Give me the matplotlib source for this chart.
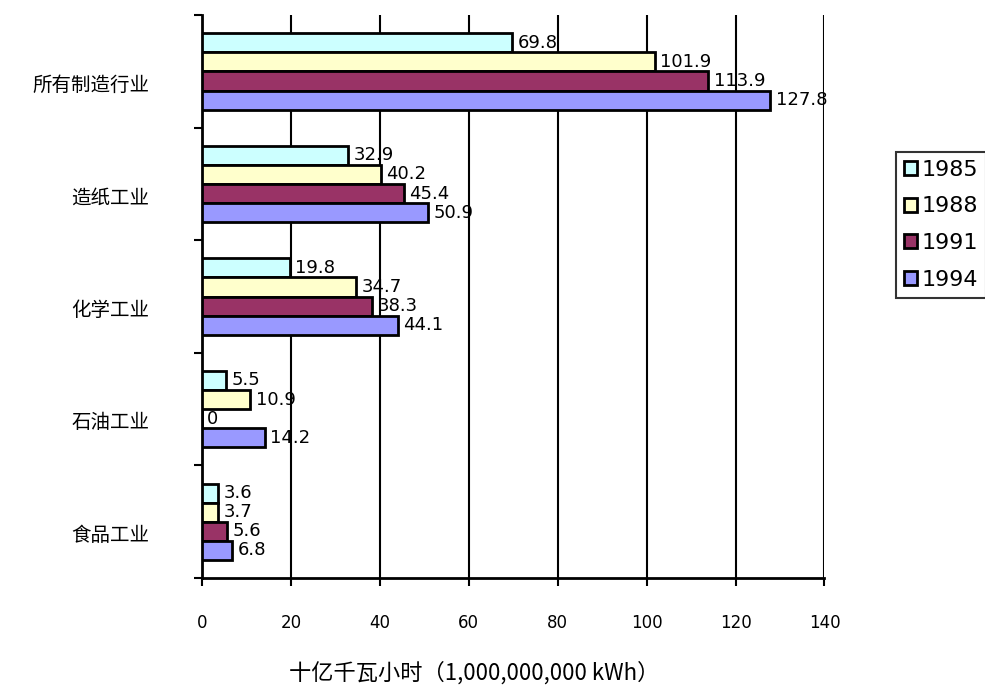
import numpy as np
import matplotlib.pyplot as plt
from matplotlib.ticker import FixedLocator, NullFormatter

plt.rcParams['font.family'] = ['DejaVu Sans', 'Noto Sans CJK SC']

categories = ['所有制造行业', '造纸工业', '化学工业', '石油工业', '食品工业']
years = ['1985', '1988', '1991', '1994']
values = {
    '1985': [69.8, 32.9, 19.8, 5.5, 3.6],
    '1988': [101.9, 40.2, 34.7, 10.9, 3.7],
    '1991': [113.9, 45.4, 38.3, 0, 5.6],
    '1994': [127.8, 50.9, 44.1, 14.2, 6.8],
}
colors = ['#CCFFFF', '#FFFFCC', '#993366', '#9999FF']
x_ticks = [0, 20, 40, 60, 80, 100, 120, 140]

fig = plt.figure(figsize=(9.85, 6.89), dpi=100)
ax = fig.add_axes([0.205, 0.161, 0.632, 0.817])

h = 0.17
y = np.arange(len(categories))
for k, yr in enumerate(years):
    pos = y + (k - 1.5) * h
    ax.barh(pos, values[yr], height=h, color=colors[k],
            edgecolor='black', linewidth=2, label=yr, zorder=3)
    for p, v in zip(pos, values[yr]):
        ax.text(v + 1.2, p, f'{v:g}', va='center', ha='left',
                fontsize=13, zorder=4)

ax.set_xlim(0, 140)
ax.set_ylim(len(categories) - 0.5, -0.5)

ax.xaxis.set_major_locator(FixedLocator(x_ticks))
ax.grid(axis='x', color='black', linewidth=1.5, zorder=1)
ax.tick_params(axis='x', length=6, width=1.5, pad=20, labelsize=12)

ax.yaxis.set_major_locator(FixedLocator(np.arange(-0.5, len(categories), 1)))
ax.yaxis.set_major_formatter(NullFormatter())
# category labels sit a little below the group centre, as in the original
ax.yaxis.set_minor_locator(FixedLocator(y + 0.1))
ax.set_yticklabels(categories, minor=True, fontsize=14,
                   family=['Noto Sans CJK SC', 'DejaVu Sans'])
ax.tick_params(axis='y', which='major', length=6, width=1.5)
ax.tick_params(axis='y', which='minor', length=0, pad=38)

for s in ['top', 'right']:
    ax.spines[s].set_visible(False)
for s in ['left', 'bottom']:
    ax.spines[s].set_linewidth(2)

ax.set_xlabel('十亿千瓦小时（1,000,000,000 kWh）', fontsize=16,
              family=['Noto Sans CJK SC', 'DejaVu Sans'])
ax.xaxis.set_label_coords(0.437, -0.148)

leg = fig.legend(loc='upper left', bbox_to_anchor=(896 / 985, 1 - 152 / 689),
                 fontsize=16, frameon=True, fancybox=False, edgecolor='black',
                 handlelength=0.6, handleheight=0.6, handletextpad=0.2,
                 labelspacing=0.75, borderpad=0.35, borderaxespad=0)
leg.get_frame().set_linewidth(1.5)

fig.savefig('out.png', dpi=100)
